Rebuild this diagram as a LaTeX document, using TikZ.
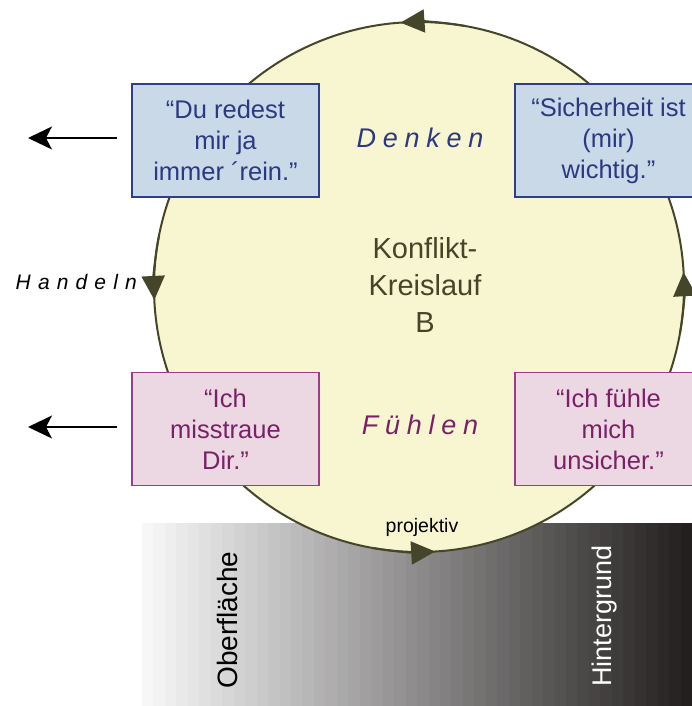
\documentclass[tikz,border=0pt]{standalone}
\usepackage{fontspec}
\setmainfont{Liberation Sans}
\newfontfamily\sperrfont[LetterSpace=25]{Liberation Sans}
\newfontfamily\sperrfontb[LetterSpace=34]{Liberation Sans}
\usetikzlibrary{arrows.meta,positioning}
\definecolor{kreisgelb}{RGB}{248,246,208}
\definecolor{kreislinie}{RGB}{69,69,42}
\definecolor{blaufill}{RGB}{201,217,232}
\definecolor{blaurand}{RGB}{45,62,140}
\definecolor{blautext}{RGB}{43,56,130}
\definecolor{rosafill}{RGB}{236,216,227}
\definecolor{rosarand}{RGB}{155,60,140}
\definecolor{rosatext}{RGB}{122,32,102}
\definecolor{grhell}{RGB}{247,247,247}
\definecolor{grdunkel}{RGB}{35,31,31}

\begin{document}
\begin{tikzpicture}[x=1pt,y=1pt,
  kasten/.style={rectangle,minimum width=187pt,minimum height=113pt,inner sep=0pt,
    align=center,line width=1.2pt,font=\fontsize{25.5}{31}\selectfont},
  blaukasten/.style={kasten,draw=blaurand,fill=blaufill,text=blautext},
  rosakasten/.style={kasten,draw=rosarand,fill=rosafill,text=rosatext},
  zyklus/.style={kreislinie,line width=2pt,-{Triangle[length=24pt,width=23pt]}},
  pfeil/.style={black,line width=1.5pt,-{Stealth[length=24pt,width=23pt,inset=6pt]}}]
\useasboundingbox (0,0) rectangle (692,-706);
% Verlauf
\foreach \i in {0,...,47}{
  \pgfmathsetmacro{\p}{100*\i/47}
  \fill[grdunkel!\p!grhell] ({142+\i*11.46},-523) rectangle ({142+(\i+1)*11.46+0.5},-706);
}
\node[rotate=90,font=\fontsize{28}{30}\selectfont] (ober) at (227,-620) {Oberfläche};
\node[rotate=90,text=white,font=\fontsize{27}{30}\selectfont] (hinter) at (605,-616) {Hintergrund};
% Kreis
\node[circle,minimum size=530pt,inner sep=0pt,outer sep=0pt,draw=kreislinie,
  fill=kreisgelb,line width=2pt] (kreis) at (419,-287) {};
\draw[zyklus] (kreis.80) arc[start angle=80,end angle=94,radius=265]; % oben
\draw[zyklus] (kreis.169) arc[start angle=169,end angle=182.8,radius=265]; % links
\draw[zyklus] (kreis.260) arc[start angle=260,end angle=273.5,radius=265]; % unten
\draw[zyklus] (kreis.350) arc[start angle=350,end angle=363.2,radius=265]; % rechts
\node[text=kreislinie,align=center,font=\fontsize{29}{37}\selectfont] (titel) at (425,-285) {Konflikt-\\Kreislauf\\B};
\node[font=\fontsize{19.5}{21}\selectfont] (proj) at (422,-527) {projektiv};
% Kaesten
\node[blaukasten] (du) at (225.5,-140.5) {“Du redest\\mir ja\\immer ´rein.”};
\node[blaukasten] (sicher) at (608.5,-140.5) {“Sicherheit ist\\(mir)\\wichtig.”};
\node[rosakasten] (miss) at (225.5,-429) {“Ich\\misstraue\\Dir.”};
\node[rosakasten] (fuehl) at (608.5,-429) {“Ich fühle\\mich\\unsicher.”};
% Labels
\node[text=blautext,font=\sperrfont\itshape\fontsize{27}{30}\selectfont] (denken) at (420,-138) {Denken};
\node[text=rosatext,font=\sperrfont\itshape\fontsize{27}{30}\selectfont] (fuehlen) at (420,-424.5) {Fühlen};
\node[inner sep=0pt,font=\sperrfontb\itshape\fontsize{21}{24}\selectfont,left = 0mm of {(137,-281.5)}] (handeln) {Handeln};
% Pfeile nach links
\coordinate (links1) at (28,-138);
\coordinate (links2) at (28,-427);
\draw[pfeil] ([xshift=-14pt,yshift=2.5pt]du.west) -- (links1);
\draw[pfeil] ([xshift=-14pt,yshift=2pt]miss.west) -- (links2);
\end{tikzpicture}
\end{document}
